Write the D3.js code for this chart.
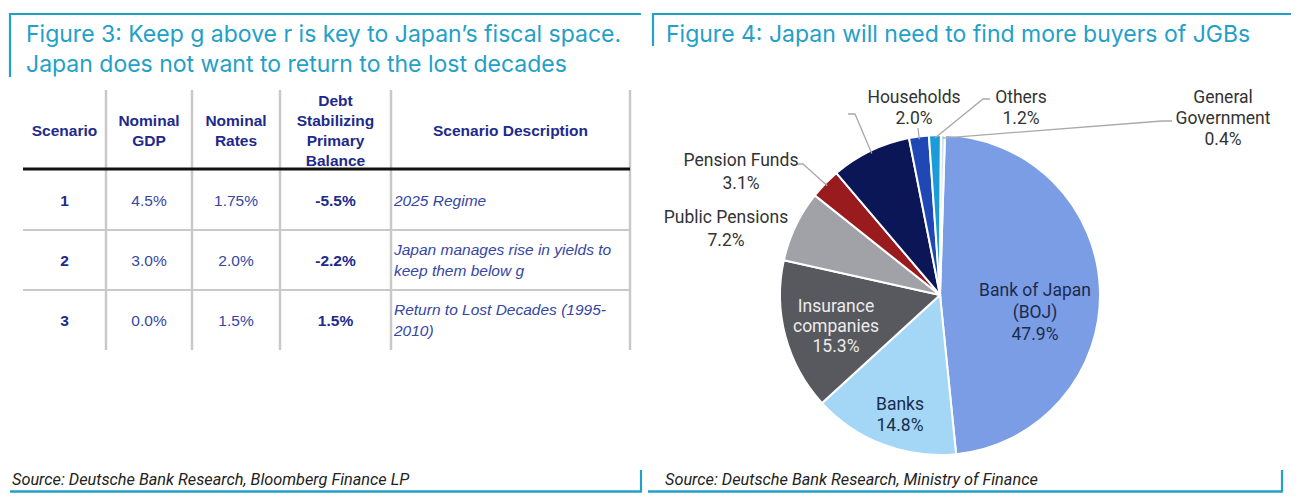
<!DOCTYPE html>
<html>
<head>
<meta charset="utf-8">
<script src="https://cdn.jsdelivr.net/npm/d3@7"></script>
<style>
body { margin: 0; background: #fff; }
svg { display: block; }
</style>
</head>
<body>
<svg id="chart" width="1306" height="501"></svg>
<script>
// Figure 3: scenario table
let fig3Title = ["Figure 3: Keep g above r is key to Japan\u2019s fiscal space.", "Japan does not want to return to the lost decades"];
let fig3Source = "Source: Deutsche Bank Research, Bloomberg Finance LP";
let headers = [["Scenario"], ["Nominal", "GDP"], ["Nominal", "Rates"], ["Debt", "Stabilizing", "Primary", "Balance"], ["Scenario Description"]];
let scenarios = ["1", "2", "3"];
let nominalGdp = ["4.5%", "3.0%", "0.0%"];
let nominalRates = ["1.75%", "2.0%", "1.5%"];
let primaryBalance = ["-5.5%", "-2.2%", "1.5%"];
let descriptions = [["2025 Regime"], ["Japan manages rise in yields to", "keep them below g"], ["Return to Lost Decades (1995-", "2010)"]];

// Figure 4: JGB holders pie
let fig4Title = ["Figure 4: Japan will need to find more buyers of JGBs"];
let fig4Source = "Source: Deutsche Bank Research, Ministry of Finance";
let holders = [["Bank of Japan", "(BOJ)"], ["Banks"], ["Insurance", "companies"], ["Public Pensions"], ["Pension Funds"], [], ["Households"], ["Others"], ["General", "Government"]];
let shares = [47.9, 14.8, 15.3, 7.2, 3.1, 8.1, 2.0, 1.2, 0.4];

let svg = d3.select("#chart");
let teal = "#23a0c8";
let titleFont = "Inter, 'Open Sans', sans-serif";
let tableFont = "'Liberation Sans', Arial, sans-serif";
let pieFont = "Roboto, sans-serif";

// ---- panel frames, titles and sources ----
let panels = [
    {left: 10, right: 641, barBottom: 77, bottomLeft: 10, bottomRight: 641, titleX: 26, title: fig3Title, source: fig3Source, sourceX: 12},
    {left: 653, right: 1291, barBottom: 46, bottomLeft: 648, bottomRight: 1282, titleX: 666, title: fig4Title, source: fig4Source, sourceX: 665}
];

panels.forEach(p => {
    let g = svg.append("g");
    g.append("line").attr("x1", p.left).attr("x2", p.right).attr("y1", 14).attr("y2", 14)
        .attr("stroke", teal).attr("stroke-width", 2.2);
    g.append("line").attr("x1", p.left).attr("x2", p.left).attr("y1", 13).attr("y2", p.barBottom)
        .attr("stroke", teal).attr("stroke-width", 2.2);
    g.append("line").attr("x1", p.bottomLeft).attr("x2", p.bottomRight).attr("y1", 491.5).attr("y2", 491.5)
        .attr("stroke", teal).attr("stroke-width", 2.4);
    g.append("line").attr("x1", p.bottomRight).attr("x2", p.bottomRight).attr("y1", 470).attr("y2", 492.5)
        .attr("stroke", teal).attr("stroke-width", 2.2);

    g.selectAll("text.title")
        .data(p.title)
        .enter().append("text")
        .attr("class", "title")
        .attr("x", p.titleX)
        .attr("y", (d, i) => 42 + i * 29.5)
        .attr("font-family", titleFont)
        .attr("font-weight", 400)
        .attr("font-size", 23)
        .attr("fill", teal)
        .text(d => d);

    g.append("text")
        .attr("x", p.sourceX)
        .attr("y", 485)
        .attr("font-family", pieFont)
        .attr("font-style", "italic")
        .attr("font-size", 16.3)
        .attr("fill", "#222")
        .text(p.source);
});

// ---- Figure 3 table ----
let colEdges = [23, 106, 192, 280, 391, 630];
let headerColor = "#1d2a8c";
let cellColor = "#3546a6";
let fontSize = 15.5;
let table = svg.append("g");

let rowBand = d3.scaleBand().domain(scenarios).range([170, 350]);
let colCenter = i => (colEdges[i] + colEdges[i + 1]) / 2;

// vertical separators
table.selectAll("line.col")
    .data(colEdges.slice(1))
    .enter().append("line")
    .attr("class", "col")
    .attr("x1", d => d).attr("x2", d => d)
    .attr("y1", 90).attr("y2", 350)
    .attr("stroke", "#c9c9c9").attr("stroke-width", 2.5);

// row separators
table.selectAll("line.row")
    .data(scenarios.slice(1))
    .enter().append("line")
    .attr("class", "row")
    .attr("x1", colEdges[0]).attr("x2", colEdges[5])
    .attr("y1", d => rowBand(d)).attr("y2", d => rowBand(d))
    .attr("stroke", "#c9c9c9").attr("stroke-width", 2);

// header rule
table.append("line")
    .attr("x1", colEdges[0]).attr("x2", colEdges[5])
    .attr("y1", 169).attr("y2", 169)
    .attr("stroke", "#111").attr("stroke-width", 3);

// header text
headers.forEach((lines, i) => {
    table.append("g").selectAll("text")
        .data(lines)
        .enter().append("text")
        .attr("x", colCenter(i))
        .attr("y", (d, k) => 130 + (k - (lines.length - 1) / 2) * 20 + 5.5)
        .attr("text-anchor", "middle")
        .attr("font-family", tableFont)
        .attr("font-weight", "bold")
        .attr("font-size", fontSize)
        .attr("fill", headerColor)
        .text(d => d);
});

// body cells
let columns = [scenarios, nominalGdp, nominalRates, primaryBalance];
columns.forEach((col, i) => {
    let bold = (i === 0 || i === 3);
    table.append("g").selectAll("text")
        .data(col)
        .enter().append("text")
        .attr("x", colCenter(i))
        .attr("y", (d, r) => rowBand(scenarios[r]) + rowBand.bandwidth() / 2 + 5.5)
        .attr("text-anchor", "middle")
        .attr("font-family", tableFont)
        .attr("font-weight", bold ? "bold" : "normal")
        .attr("font-size", fontSize)
        .attr("fill", bold ? headerColor : cellColor)
        .text(d => d);
});

descriptions.forEach((lines, r) => {
    let mid = rowBand(scenarios[r]) + rowBand.bandwidth() / 2;
    table.append("g").selectAll("text")
        .data(lines)
        .enter().append("text")
        .attr("x", colEdges[4] + 3)
        .attr("y", (d, k) => mid + (k - (lines.length - 1) / 2) * 21 + 5.5)
        .attr("font-family", tableFont)
        .attr("font-style", "italic")
        .attr("font-size", fontSize)
        .attr("fill", cellColor)
        .text(d => d);
});

// ---- Figure 4 pie ----
let cx = 940, cy = 295, radius = 160;
let sliceColors = ["#7b9de6", "#a4d7f6", "#58585f", "#a1a2a7", "#9a1b1e", "#0b1656", "#2048b4", "#1b9bd8", "#cfe0ee"];

// label layout relative to pie centre: first baseline position, colour, optional leader line points
let labelLayout = [
    {x: 95, y: 1, color: "#1c2b4c", gap: 22},
    {x: -40, y: 115, color: "#1c2b4c", gap: 21},
    {x: -104, y: 17, color: "#ececec", gap: 20},
    {x: -214, y: -72, color: "#333", gap: 23},
    {x: -199, y: -129, color: "#333", gap: 23, leader: [[-137, -131], [-143, -131]]},
    {leader: [[-85, -181], [-92, -181]]},
    {x: -26, y: -192, color: "#333", gap: 21, leader: [[-22, -167]]},
    {x: 81, y: -192, color: "#333", gap: 21, leader: [[43, -196], [50, -196]]},
    {x: 283, y: -192, color: "#333", gap: 21, leader: [[222, -174], [232, -174]]}
];

let pie = d3.pie().sort(null).value(d => d).startAngle(0.031).endAngle(2 * Math.PI + 0.031);
let arc = d3.arc().innerRadius(0).outerRadius(radius);
let edgeArc = d3.arc().innerRadius(radius - 3).outerRadius(radius - 3);
let pct = d3.format(".1f");

let pg = svg.append("g").attr("transform", "translate(" + cx + "," + cy + ")");
let arcs = pie(shares);

pg.selectAll("path")
    .data(arcs)
    .enter().append("path")
    .attr("d", arc)
    .attr("fill", (d, i) => sliceColors[i])
    .attr("stroke", "#fff")
    .attr("stroke-width", 2);

// leader lines
pg.selectAll("polyline")
    .data(arcs.filter((d, i) => labelLayout[i].leader))
    .enter().append("polyline")
    .attr("points", d => {
        let pts = [edgeArc.centroid(d)].concat(labelLayout[d.index].leader);
        return pts.map(p => p.join(",")).join(" ");
    })
    .attr("fill", "none")
    .attr("stroke", "#a9a9a9")
    .attr("stroke-width", 1.3);

// labels
arcs.forEach((d, i) => {
    let lay = labelLayout[i];
    if (!holders[i].length) return;
    let lines = holders[i].concat([pct(d.data) + "%"]);
    pg.append("g").selectAll("text")
        .data(lines)
        .enter().append("text")
        .attr("x", lay.x)
        .attr("y", (t, k) => lay.y + k * lay.gap)
        .attr("text-anchor", "middle")
        .attr("font-family", pieFont)
        .attr("font-size", 17.5)
        .attr("fill", lay.color)
        .text(t => t);
});
</script>
</body>
</html>
